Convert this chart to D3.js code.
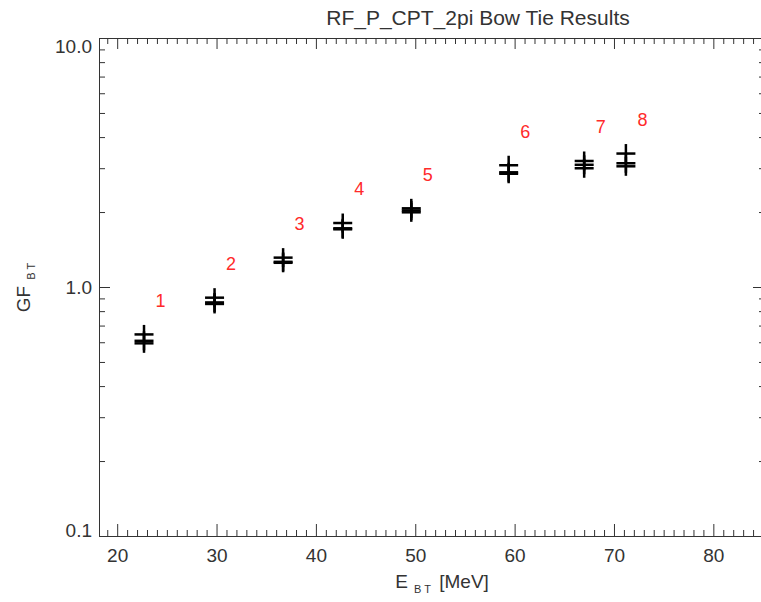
<!DOCTYPE html>
<html>
<head>
<meta charset="utf-8">
<script src="https://cdn.jsdelivr.net/npm/d3@7"></script>
<style>
  body { margin: 0; background: #fff; }
  svg text { font-family: "Liberation Sans", Arial, sans-serif; }
</style>
</head>
<body>
<div id="chart"></div>
<script>
// --- data ---
const channels = ["1", "2", "3", "4", "5", "6", "7", "8"];
const energy   = [22.7, 29.8, 36.7, 42.7, 49.6, 59.4, 67.0, 71.2];   // E_BT [MeV]
const gfRun1   = [0.645, 0.906, 1.312, 1.807, 2.07, 3.083, 3.207, 3.435];
const gfRun2   = [0.608, 0.867, 1.262, 1.721, 2.03, 2.888, 3.096, 3.14];
const gfRun3   = [0.594, 0.855, 1.251, 1.705, 1.995, 2.85, 2.998, 3.053];
const xMajor   = [20, 30, 40, 50, 60, 70, 80];
const yMajor   = [0.1, 1, 10];
const yLabels  = ["0.1", "1.0", "10.0"];

// --- layout ---
const w = 761, h = 602, m = { top: 38, right: -4, bottom: 66, left: 99 };
const innerW = w - m.left - m.right, innerH = h - m.top - m.bottom;
const AX = "#333";

const svg = d3.select("#chart").append("svg").attr("width", w).attr("height", h);
const g = svg.append("g").attr("transform", `translate(${m.left},${m.top})`);

const x = d3.scaleLinear().domain([18.17, 85.2]).range([0, innerW]);
const y = d3.scaleLog().domain([0.1, 10]).range([innerH, 0]);

const xMinor = d3.range(19, 86, 1).filter(v => v % 10 !== 0);
const yMinor = [];
[0.1, 1].forEach(d => d3.range(2, 10).forEach(k => yMinor.push(+(d * k).toFixed(2))));

function styleAxis(sel) {
  sel.selectAll("path, line").attr("stroke", AX).attr("stroke-width", 1);
  sel.selectAll("text").attr("fill", AX).style("font-size", "19px");
}

// bottom
g.append("g").attr("transform", `translate(0,${innerH})`)
  .call(d3.axisBottom(x).tickValues(xMajor).tickSizeInner(-12).tickSizeOuter(0).tickPadding(13))
  .call(styleAxis);
g.append("g").attr("transform", `translate(0,${innerH})`)
  .call(d3.axisBottom(x).tickValues(xMinor).tickSize(-6).tickFormat(""))
  .call(sel => sel.select(".domain").remove()).call(styleAxis);
// top
g.append("g")
  .call(d3.axisTop(x).tickValues(xMajor).tickSizeInner(-11).tickSizeOuter(0).tickFormat(""))
  .call(styleAxis);
g.append("g")
  .call(d3.axisTop(x).tickValues(xMinor).tickSize(-6).tickFormat(""))
  .call(sel => sel.select(".domain").remove()).call(styleAxis);
// left
const yAx = g.append("g")
  .call(d3.axisLeft(y).tickValues(yMajor).tickSizeInner(-11).tickSizeOuter(0).tickPadding(7)
    .tickFormat((d, i) => yLabels[i]))
  .call(styleAxis);
yAx.selectAll(".tick text").attr("dy", (d, i) => i === 0 ? "0em" : i === 2 ? "0.75em" : "0.32em");
g.append("g")
  .call(d3.axisLeft(y).tickValues(yMinor).tickSize(-6).tickFormat(""))
  .call(sel => sel.select(".domain").remove()).call(styleAxis);
// right
g.append("g").attr("transform", `translate(${innerW},0)`)
  .call(d3.axisRight(y).tickValues(yMajor).tickSizeInner(-12).tickSizeOuter(0).tickFormat(""))
  .call(styleAxis);
g.append("g").attr("transform", `translate(${innerW},0)`)
  .call(d3.axisRight(y).tickValues(yMinor).tickSize(-6).tickFormat(""))
  .call(sel => sel.select(".domain").remove()).call(styleAxis);

// --- titles ---
svg.append("text")
  .attr("x", 478).attr("y", 25).attr("text-anchor", "middle")
  .attr("fill", AX).style("font-size", "21px")
  .text("RF_P_CPT_2pi Bow Tie Results");

const xt = svg.append("text")
  .attr("x", 442).attr("y", 588).attr("text-anchor", "middle")
  .attr("fill", AX).style("font-size", "19px");
xt.append("tspan").text("E");
xt.append("tspan").attr("dy", 5).style("font-size", "11px").style("letter-spacing", "3px").text(" BT");
xt.append("tspan").attr("dy", -5).text(" [MeV]");

const yt = svg.append("text")
  .attr("transform", "translate(30,286) rotate(-90)").attr("text-anchor", "middle")
  .attr("fill", AX).style("font-size", "19px");
yt.append("tspan").text("GF");
yt.append("tspan").attr("dy", 5).style("font-size", "11px").style("letter-spacing", "3px").text(" BT");

// --- plus markers ---
const S = 9.5;
const pts = g.append("g").attr("stroke", "#000").attr("stroke-width", 2.5);
[gfRun1, gfRun2, gfRun3].forEach(series => {
  series.forEach((v, i) => {
    const cx = x(energy[i]), cy = y(v);
    pts.append("line").attr("x1", cx - S).attr("x2", cx + S).attr("y1", cy).attr("y2", cy);
    pts.append("line").attr("x1", cx).attr("x2", cx).attr("y1", cy - S).attr("y2", cy + S);
  });
});

// --- channel numbers ---
g.selectAll("text.ch").data(channels).join("text")
  .attr("class", "ch")
  .attr("x", (d, i) => x(energy[i]) + 16.5)
  .attr("y", (d, i) => y(gfRun1[i]) - 34)
  .attr("dy", "0.35em").attr("text-anchor", "middle")
  .attr("fill", "#ff2a2a").style("font-size", "18px")
  .text(d => d);
</script>
</body>
</html>
